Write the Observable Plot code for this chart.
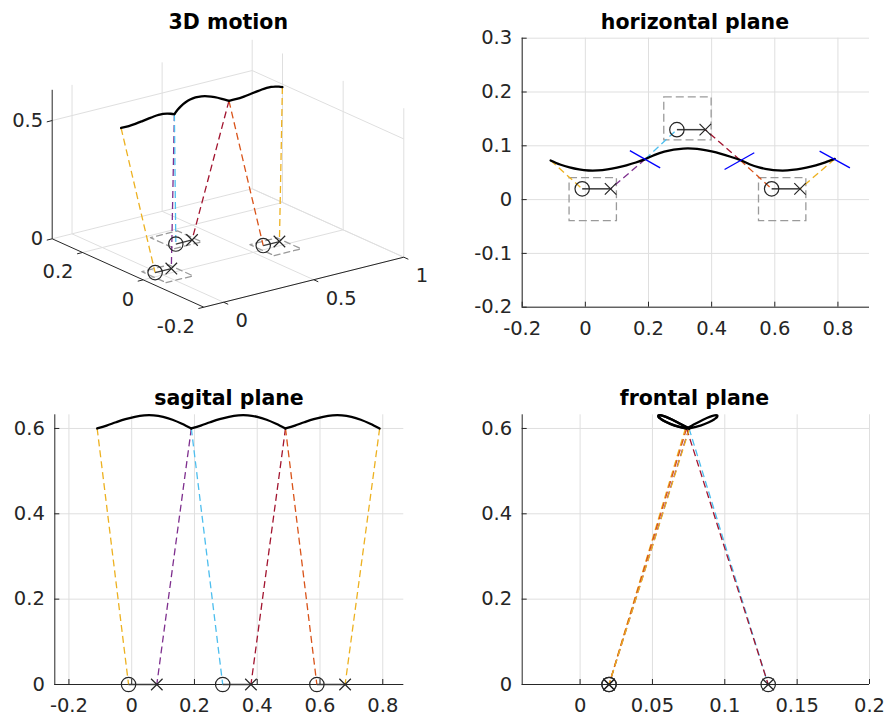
<!DOCTYPE html>
<html><head><meta charset="utf-8">
<script src="https://cdn.jsdelivr.net/npm/d3@7"></script>
<script src="https://cdn.jsdelivr.net/npm/@observablehq/plot@0.6"></script>
<style>
body{margin:0;background:#fff;}
#fig{position:relative;width:885px;height:722px;overflow:hidden;background:#fff;}
.panel{position:absolute;}
.title{position:absolute;font:bold 20.5px "DejaVu Sans";line-height:20.5px;color:#000;white-space:nowrap;transform:translateX(-50%);}
</style></head><body><div id="fig"></div>
<script>
// ---------------- data ----------------
const comX = [-0.11,-0.08,-0.05,-0.02,0.01,0.04,0.07,0.10,0.13,0.16,0.19,0.22,0.25,0.28,0.31,0.34,0.37,0.40,0.43,0.46,0.49,0.52,0.55,0.58,0.61,0.64,0.67,0.70,0.73,0.76,0.79];
const comY = [0.0728,0.0652,0.0597,0.0560,0.0541,0.0542,0.0561,0.0594,0.0638,0.0690,0.0753,0.0832,0.0890,0.0928,0.0948,0.0948,0.0929,0.0895,0.0850,0.0796,0.0736,0.0658,0.0600,0.0562,0.0542,0.0542,0.0560,0.0593,0.0638,0.0692,0.0756];
const comZ = [0.600,0.6067,0.6145,0.6217,0.6274,0.6306,0.6306,0.6271,0.6204,0.6110,0.600,0.6067,0.6145,0.6217,0.6274,0.6306,0.6306,0.6271,0.6204,0.6110,0.600,0.6067,0.6145,0.6217,0.6274,0.6306,0.6306,0.6271,0.6204,0.6110,0.600];
const stepStart = [0, 10, 20];   // indices in com arrays where each step begins
const heelX = [-0.01, 0.29, 0.59];
const heelY = [0.02, 0.13, 0.02];
const toeX  = [0.08, 0.38, 0.68];
const toeY  = [0.02, 0.13, 0.02];
const boxX1 = [-0.05, 0.25, 0.55];
const boxX2 = [0.10, 0.40, 0.70];
const boxY1 = [-0.04, 0.11, -0.04];
const boxY2 = [0.04, 0.19, 0.04];
const legCom  = [0, 10, 10, 20, 20, 30];
const legFoot = ["heel", "toe", "heel", "toe", "heel", "toe"];
const legStep = [0, 0, 1, 1, 2, 2];
const blueX1 = [0.141, 0.441, 0.742];
const blueY1 = [0.091, 0.056, 0.090];
const blueX2 = [0.237, 0.535, 0.838];
const blueY2 = [0.059, 0.087, 0.059];
const hTicksX = [-0.2, 0, 0.2, 0.4, 0.6, 0.8];
const hTicksY = [-0.2, -0.1, 0, 0.1, 0.2, 0.3];
const sTicksX = [-0.2, 0, 0.2, 0.4, 0.6, 0.8];
const sTicksY = [0, 0.2, 0.4, 0.6];
const fTicksX = [0, 0.05, 0.1, 0.15, 0.2];
const fTicksY = [0, 0.2, 0.4, 0.6];
const t3X = [0, 0.5, 1];
const t3Y = [-0.2, 0, 0.2];
const t3Z = [0, 0.5];
const titles = ["3D motion", "horizontal plane", "sagital plane", "frontal plane"];

// ---------------- styles ----------------
const legColors = ["#EDB120", "#7E2F8E", "#4DBEEE", "#A2142F", "#D95319", "#EDB120"];
const AX = "#262626", GRID = "#dfdfdf", BOXC = "#9a9a9a", FOOT = "#3a3a3a";
const DASH = "7,4";
const FS = 19.5;
const fmt = d => String(+(+d).toFixed(3));

// ---------------- derived rows ----------------
const com = comX.map((x, i) => ({x, y: comY[i], z: comZ[i]}));
const comSeg = [];
stepStart.forEach((s, k) => { for (let i = s; i <= s + 10; i++) comSeg.push({...com[i], s: k}); });
const heel = heelX.map((x, i) => ({x, y: heelY[i], z: 0}));
const toe = toeX.map((x, i) => ({x, y: toeY[i], z: 0}));
const legs = legCom.map((ci, j) => ({c: com[ci], f: (legFoot[j] === "heel" ? heel : toe)[legStep[j]], color: legColors[j]}));
const feet = heel.map((h, i) => ({h, t: toe[i]}));
const boxes = boxX1.map((x1, i) => ({x1, x2: boxX2[i], y1: boxY1[i], y2: boxY2[i]}));
const blues = blueX1.map((x1, i) => ({x1, y1: blueY1[i], x2: blueX2[i], y2: blueY2[i]}));

const fig = document.getElementById("fig");
const baseStyle = {fontFamily: "DejaVu Sans", fontSize: FS + "px", color: AX, background: "transparent", overflow: "visible"};

function place(el, left, top) { el.classList.add("panel"); el.style.left = left + "px"; el.style.top = top + "px"; fig.appendChild(el); }
function addTitle(text, cx, top) { const d = document.createElement("div"); d.className = "title"; d.textContent = text; d.style.left = cx + "px"; d.style.top = top + "px"; fig.appendChild(d); }

function panel2d(o) {
  return Plot.plot({
    width: o.width, height: o.height,
    marginLeft: o.ml, marginRight: o.mr, marginTop: o.mt, marginBottom: o.mb,
    x: {domain: o.xd}, y: {domain: o.yd}, color: {type: "identity"},
    style: baseStyle,
    marks: [
      Plot.gridX(o.xt, {stroke: GRID, strokeOpacity: 1}),
      Plot.gridY(o.yt, {stroke: GRID, strokeOpacity: 1}),
      Plot.ruleX([o.xd[0]], {stroke: AX, strokeWidth: 1}),
      Plot.ruleY([o.yd[0]], {stroke: AX, strokeWidth: 1}),
      ...o.marks,
      Plot.axisX(o.xt, {tickSize: -5, tickPadding: 19, tickFormat: fmt, stroke: AX, fill: AX, fontSize: FS, label: null}),
      Plot.axisY(o.yt, {tickSize: -5, tickPadding: 15, tickFormat: fmt, stroke: AX, fill: AX, fontSize: FS, label: null})
    ]
  });
}

// ---------------- horizontal plane ----------------
const hp = panel2d({
  width: 445, height: 361, ml: 81.7, mr: 16, mt: 37.7, mb: 54.3,
  xd: [-0.2, 0.9], yd: [-0.2, 0.3], xt: hTicksX, yt: hTicksY,
  marks: [
    Plot.rect(boxes, {x1: "x1", x2: "x2", y1: "y1", y2: "y2", fill: "none", stroke: BOXC, strokeWidth: 1.3, strokeDasharray: "8,4"}),
    Plot.link(legs, {x1: d => d.c.x, y1: d => d.c.y, x2: d => d.f.x, y2: d => d.f.y, stroke: "color", strokeWidth: 1.3, strokeDasharray: DASH}),
    Plot.line(com, {x: "x", y: "y", stroke: "#000", strokeWidth: 2.3, curve: "catmull-rom"}),
    Plot.link(blues, {x1: "x1", y1: "y1", x2: "x2", y2: "y2", stroke: "#0000ff", strokeWidth: 1.3}),
    Plot.link(feet, {x1: d => d.h.x, y1: d => d.h.y, x2: d => d.t.x, y2: d => d.t.y, stroke: FOOT, strokeWidth: 1.5}),
    Plot.dot(heel, {x: "x", y: "y", r: 7.2, stroke: AX, strokeWidth: 1.2, fill: "none"}),
    Plot.dot(toe, {x: "x", y: "y", r: 5.3, symbol: "times", stroke: AX, strokeWidth: 1.2})
  ]
});
place(hp, 440, 0);

// ---------------- sagital plane ----------------
const sp = panel2d({
  width: 440, height: 361, ml: 54.3, mr: 36.7, mt: 53.3, mb: 38,
  xd: [-0.245, 0.867], yd: [0, 0.632], xt: sTicksX, yt: sTicksY,
  marks: [
    Plot.link(legs, {x1: d => d.c.x, y1: d => d.c.z, x2: d => d.f.x, y2: 0, stroke: "color", strokeWidth: 1.3, strokeDasharray: DASH}),
    Plot.line(comSeg, {x: "x", y: "z", z: "s", stroke: "#000", strokeWidth: 2.3, curve: "catmull-rom"}),
    Plot.link(feet, {x1: d => d.h.x, y1: 0, x2: d => d.t.x, y2: 0, stroke: FOOT, strokeWidth: 1.5}),
    Plot.dot(heel, {x: "x", y: 0, r: 7.2, stroke: AX, strokeWidth: 1.2, fill: "none"}),
    Plot.dot(toe, {x: "x", y: 0, r: 5.3, symbol: "times", stroke: AX, strokeWidth: 1.2})
  ]
});
place(sp, 0, 361);

// ---------------- frontal plane ----------------
const fp = panel2d({
  width: 445, height: 361, ml: 81.7, mr: 16, mt: 53.3, mb: 38,
  xd: [-0.04, 0.2], yd: [0, 0.632], xt: fTicksX, yt: fTicksY,
  marks: [
    Plot.link(legs, {x1: d => d.c.y, y1: d => d.c.z, x2: d => d.f.y, y2: 0, stroke: "color", strokeWidth: 1.3, strokeDasharray: DASH}),
    Plot.line(comSeg, {x: "y", y: "z", z: "s", stroke: "#000", strokeWidth: 2.3, curve: "catmull-rom"}),
    Plot.dot(heel, {x: "y", y: 0, r: 7.2, stroke: AX, strokeWidth: 1.2, fill: "none"}),
    Plot.dot(toe, {x: "y", y: 0, r: 5.3, symbol: "times", stroke: AX, strokeWidth: 1.2})
  ]
});
place(fp, 440, 361);

// ---------------- 3D view ----------------
const L3 = {xmin: -0.11, xmax: 1, ymin: -0.2, ymax: 0.3, zmax: 0.63};
const O3 = [203.3, 306.7], VX = [200, -50], VY = [-151.6, -68.4], VZ = [0, -149];
function proj(x, y, z) {
  const a = (x - L3.xmin) / (L3.xmax - L3.xmin), b = (y - L3.ymin) / (L3.ymax - L3.ymin), c = z / L3.zmax;
  return [O3[0] + a * VX[0] + b * VY[0] + c * VZ[0], O3[1] + a * VX[1] + b * VY[1] + c * VZ[1]];
}
const seg3 = (p, q) => { const A = proj(...p), B = proj(...q); return {x1: A[0], y1: A[1], x2: B[0], y2: B[1]}; };
const pt3 = (x, y, z, extra = {}) => { const p = proj(x, y, z); return {px: p[0], py: p[1], ...extra}; };
const {xmin, xmax, ymin, ymax, zmax} = L3;
const grid3 = [];
t3X.forEach(x => { grid3.push(seg3([x, ymax, 0], [x, ymax, zmax])); grid3.push(seg3([x, ymin, 0], [x, ymax, 0])); });
t3Y.forEach(y => { grid3.push(seg3([xmax, y, 0], [xmax, y, zmax])); grid3.push(seg3([xmin, y, 0], [xmax, y, 0])); });
t3Z.forEach(z => { grid3.push(seg3([xmin, ymax, z], [xmax, ymax, z])); grid3.push(seg3([xmax, ymin, z], [xmax, ymax, z])); });
const axes3 = [seg3([xmin, ymax, 0], [xmin, ymax, zmax]), seg3([xmin, ymin, 0], [xmin, ymax, 0]), seg3([xmin, ymin, 0], [xmax, ymin, 0])];
const ticks3 = [
  ...t3X.map(x => seg3([x, ymin, 0], [x, ymin - 0.015, 0])),
  ...t3Y.map(y => seg3([xmin, y, 0], [xmin - 0.03, y, 0])),
  ...t3Z.map(z => seg3([xmin, ymax, z], [xmin - 0.03, ymax, z]))
];
const labX3 = t3X.map(x => pt3(x, ymin, 0, {t: fmt(x)}));
const labY3 = t3Y.map(y => pt3(xmin, y, 0, {t: fmt(y)}));
const labZ3 = t3Z.map(z => pt3(xmin, ymax, z, {t: fmt(z)}));
const com3 = comSeg.map(d => pt3(d.x, d.y, d.z, {s: d.s}));
const legs3 = legs.map(d => ({...seg3([d.c.x, d.c.y, d.c.z], [d.f.x, d.f.y, 0]), color: d.color}));
const boxes3 = [];
boxes.forEach((b, i) => [[b.x1, b.y1], [b.x2, b.y1], [b.x2, b.y2], [b.x1, b.y2], [b.x1, b.y1]].forEach(([x, y]) => boxes3.push(pt3(x, y, 0, {i}))));
const feet3 = feet.map(f => seg3([f.h.x, f.h.y, 0], [f.t.x, f.t.y, 0]));
const heel3 = heel.map(h => pt3(h.x, h.y, 0));
const toe3 = toe.map(h => pt3(h.x, h.y, 0));
const p3 = Plot.plot({
  width: 440, height: 361, margin: 0,
  x: {domain: [0, 440], range: [0, 440], axis: null},
  y: {domain: [0, 361], range: [0, 361], axis: null},
  color: {type: "identity"},
  style: baseStyle,
  marks: [
    Plot.link(grid3, {x1: "x1", y1: "y1", x2: "x2", y2: "y2", stroke: GRID, strokeWidth: 1}),
    Plot.link(axes3, {x1: "x1", y1: "y1", x2: "x2", y2: "y2", stroke: AX, strokeWidth: 1}),
    Plot.link(ticks3, {x1: "x1", y1: "y1", x2: "x2", y2: "y2", stroke: AX, strokeWidth: 1}),
    Plot.text(labX3, {x: "px", y: "py", text: "t", textAnchor: "start", dx: 12, dy: 19, fill: AX, fontSize: FS}),
    Plot.text(labY3, {x: "px", y: "py", text: "t", textAnchor: "end", dx: -9, dy: 19.5, fill: AX, fontSize: FS}),
    Plot.text(labZ3, {x: "px", y: "py", text: "t", textAnchor: "end", dx: -9, dy: 0, fill: AX, fontSize: FS}),
    Plot.line(boxes3, {x: "px", y: "py", z: "i", stroke: BOXC, strokeWidth: 1.3, strokeDasharray: "6,4"}),
    Plot.link(legs3, {x1: "x1", y1: "y1", x2: "x2", y2: "y2", stroke: "color", strokeWidth: 1.3, strokeDasharray: DASH}),
    Plot.line(com3, {x: "px", y: "py", z: "s", stroke: "#000", strokeWidth: 2.3, curve: "catmull-rom"}),
    Plot.link(feet3, {x1: "x1", y1: "y1", x2: "x2", y2: "y2", stroke: FOOT, strokeWidth: 1.3}),
    Plot.dot(heel3, {x: "px", y: "py", r: 7.2, stroke: AX, strokeWidth: 1.2, fill: "none"}),
    Plot.dot(toe3, {x: "px", y: "py", r: 5.3, symbol: "times", stroke: AX, strokeWidth: 1.2})
  ]
});
place(p3, 0, 0);

// ---------------- titles ----------------
addTitle(titles[0], 228.3, 12);
addTitle(titles[1], 695, 12);
addTitle(titles[2], 229, 387.7);
addTitle(titles[3], 694.5, 387.7);
</script></body></html>
